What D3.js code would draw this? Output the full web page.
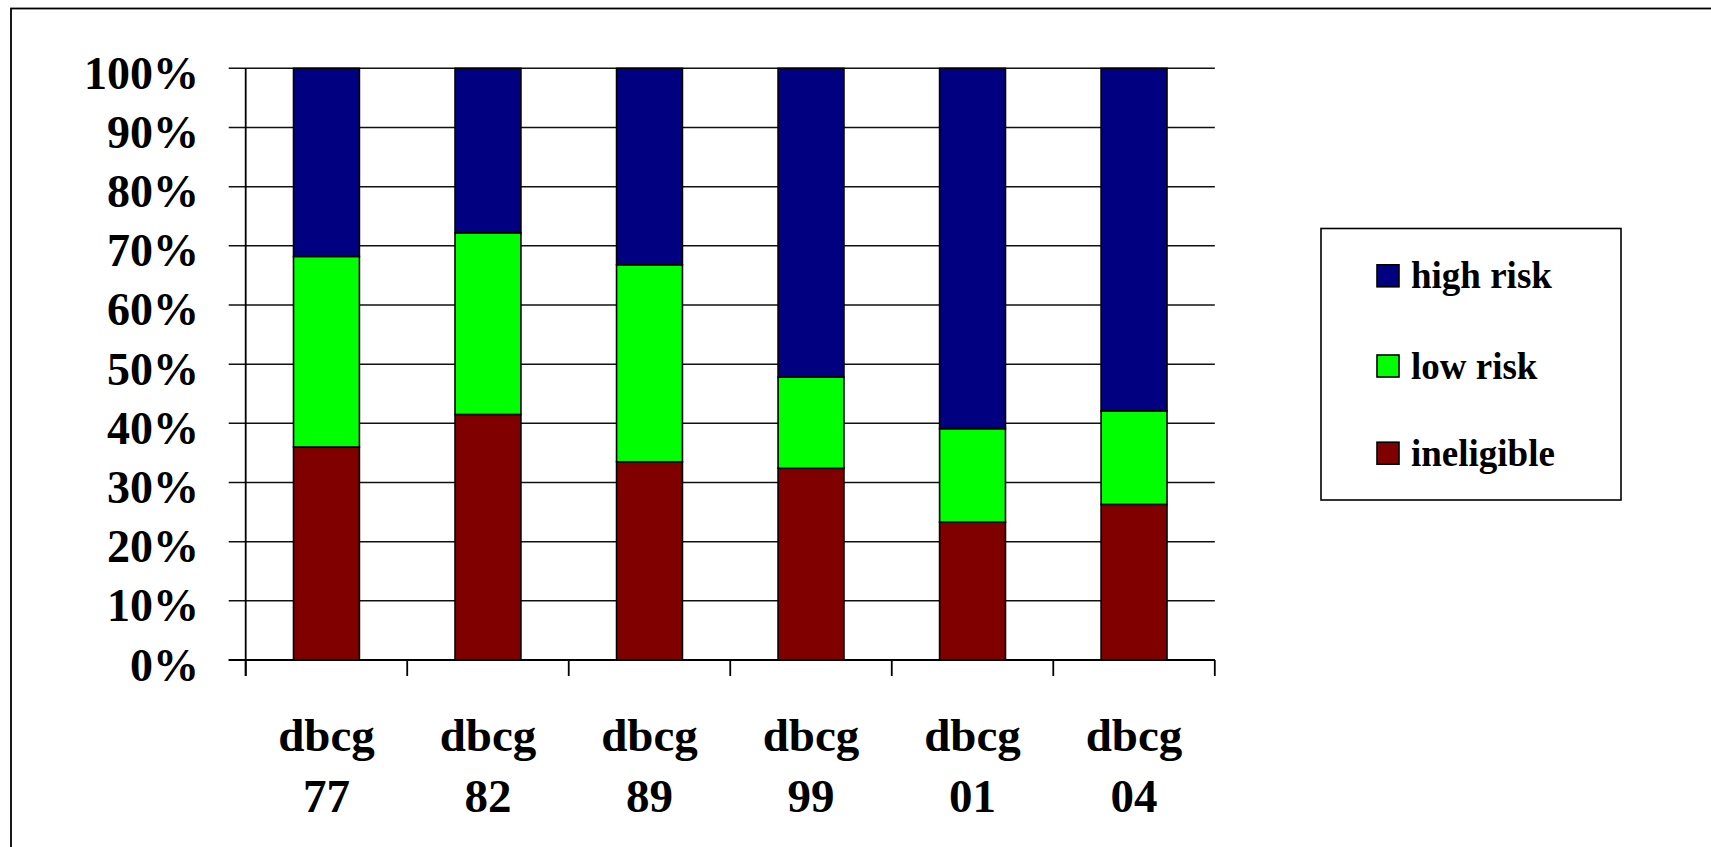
<!DOCTYPE html>
<html>
<head>
<meta charset="utf-8">
<script src="https://cdn.jsdelivr.net/npm/d3@7"></script>
<style>
  html, body { margin: 0; padding: 0; background: #fff; overflow: hidden; }
  svg { display: block; }
  text { font-family: "Liberation Serif", "Times New Roman", serif; font-weight: bold; fill: #000; }
</style>
</head>
<body>
<script>
const categories = ["dbcg 77", "dbcg 82", "dbcg 89", "dbcg 99", "dbcg 01", "dbcg 04"];
const seriesNames = ["ineligible", "low risk", "high risk"];
const ineligible = [36.0, 41.5, 33.5, 32.4, 23.3, 26.3];
const lowRisk    = [32.2, 30.7, 33.3, 15.4, 15.8, 15.8];
const highRisk   = [31.8, 27.8, 33.2, 52.2, 60.9, 57.9];
const yTicks = [0, 10, 20, 30, 40, 50, 60, 70, 80, 90, 100];
const colors = {"high risk": "#000080", "low risk": "#00FF00", "ineligible": "#800000"};
const legendOrder = ["high risk", "low risk", "ineligible"];

const W = 1711, H = 847;
const plot = {left: 245.7, right: 1214.8, top: 68.3, bottom: 660};

const svg = d3.select("body").append("svg").attr("width", W).attr("height", H);

// outer frame (open to the right and bottom, as in the reference)
svg.append("rect").attr("x", 11).attr("y", 8.5).attr("width", W + 20).attr("height", H + 20)
  .attr("fill", "none").attr("stroke", "#000").attr("stroke-width", 1.8);

const x = d3.scaleBand().domain(categories).range([plot.left, plot.right])
  .paddingInner(0.592).paddingOuter(0.296);
const y = d3.scaleLinear().domain([0, 100]).range([plot.bottom, plot.top]);

// gridlines
svg.append("g").selectAll("line").data(yTicks).join("line")
  .attr("x1", plot.left - 17).attr("x2", plot.right)
  .attr("y1", d => y(d)).attr("y2", d => y(d))
  .attr("stroke", "#111").attr("stroke-width", 1.5);

// y labels
svg.append("g").selectAll("text").data(yTicks).join("text")
  .attr("x", 199).attr("y", d => y(d) + 20.5)
  .attr("text-anchor", "end")
  .style("font-size", "46px")
  .text(d => d + "%");

// stacked data
const rows = categories.map((c, i) => ({cat: c, "ineligible": ineligible[i], "low risk": lowRisk[i], "high risk": highRisk[i]}));
const stack = d3.stack().keys(seriesNames)(rows);

svg.append("g").selectAll("g").data(stack).join("g")
  .attr("fill", d => colors[d.key])
  .selectAll("rect").data(d => d).join("rect")
  .attr("x", d => x(d.data.cat))
  .attr("width", x.bandwidth())
  .attr("y", d => y(d[1]))
  .attr("height", d => y(d[0]) - y(d[1]))
  .attr("stroke", "#000").attr("stroke-width", 1.6);

// y axis line
svg.append("line").attr("x1", plot.left).attr("x2", plot.left)
  .attr("y1", plot.top).attr("y2", plot.bottom + 16)
  .attr("stroke", "#000").attr("stroke-width", 1.8);

// x axis line
svg.append("line").attr("x1", plot.left - 17).attr("x2", plot.right)
  .attr("y1", plot.bottom).attr("y2", plot.bottom)
  .attr("stroke", "#000").attr("stroke-width", 2);

// x ticks at band boundaries
const boundaries = categories.map(c => x(c) - x.step() * x.paddingInner() / 2 - (x.step() * (1 - x.paddingInner()) * 0)).concat([plot.right]);
const tickXs = d3.range(categories.length + 1).map(i => plot.left + i * (plot.right - plot.left) / categories.length);
svg.append("g").selectAll("line").data(tickXs).join("line")
  .attr("x1", d => d).attr("x2", d => d)
  .attr("y1", plot.bottom).attr("y2", plot.bottom + 16)
  .attr("stroke", "#000").attr("stroke-width", 1.8);

// x labels (two lines)
const xl = svg.append("g").selectAll("text").data(categories).join("text")
  .attr("text-anchor", "middle")
  .style("font-size", "47px");
xl.each(function(d) {
  const parts = d.split(" ");
  const cx = x(d) + x.bandwidth() / 2;
  d3.select(this).append("tspan").attr("x", cx).attr("y", 751).text(parts[0]);
  d3.select(this).append("tspan").attr("x", cx).attr("y", 811.5).text(parts[1]);
});

// legend
const lg = svg.append("g");
lg.append("rect").attr("x", 1321).attr("y", 228.5).attr("width", 300).attr("height", 271.5)
  .attr("fill", "#fff").attr("stroke", "#000").attr("stroke-width", 1.6);
const legendY = [288.3, 378.5, 465.7];
const li = lg.selectAll("g.item").data(legendOrder).join("g").attr("class", "item");
li.append("rect").attr("x", 1377).attr("y", (d, i) => legendY[i] - 23.5)
  .attr("width", 22).attr("height", 22)
  .attr("fill", d => colors[d]).attr("stroke", "#000").attr("stroke-width", 1.6);
li.append("text").attr("x", 1411).attr("y", (d, i) => legendY[i])
  .style("font-size", "37px").text(d => d);
</script>
</body>
</html>
